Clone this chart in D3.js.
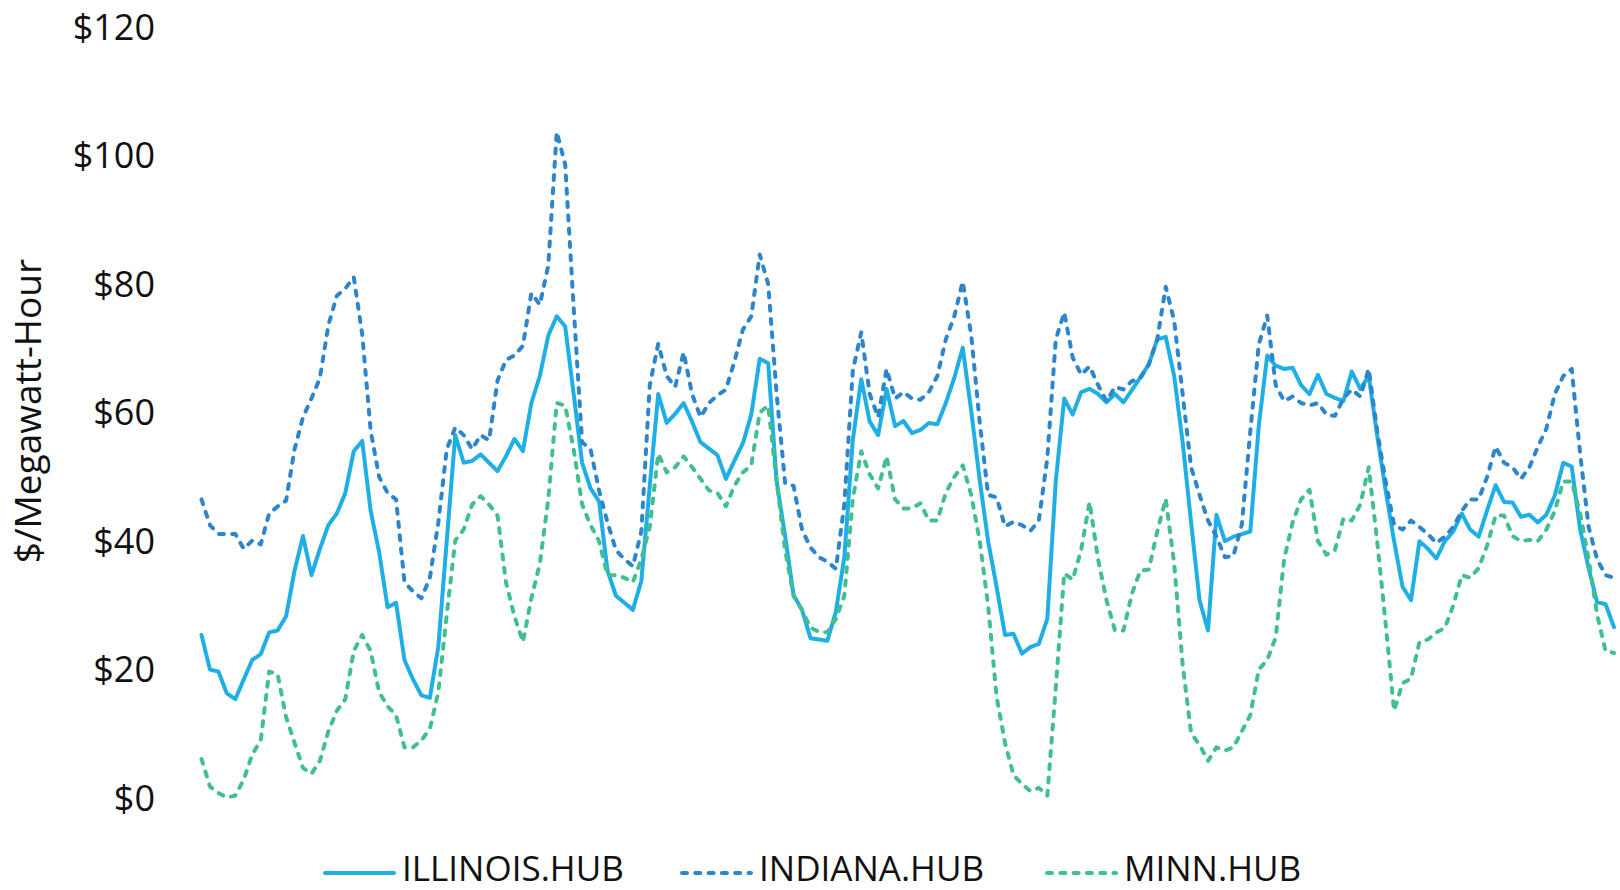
<!DOCTYPE html>
<html>
<head>
<meta charset="utf-8">
<script src="https://cdn.jsdelivr.net/npm/d3@7"></script>
<style>
  html, body { margin: 0; padding: 0; background: #ffffff; }
  svg { display: block; }
  text { font-family: "Open Sans", "Noto Sans", sans-serif; fill: #111111; }
</style>
</head>
<body>
<svg id="chart" width="1620" height="890"></svg>
<script>
// Hourly hub prices, $/MWh, one week (168 hours)
const illinoisHub = [
  25.3, 19.9, 19.6, 16.2, 15.3, 18.4, 21.4, 22.3, 25.7, 26.0, 28.2, 35.3, 40.7, 34.6, 38.7, 42.4, 44.2, 47.4, 53.9, 55.5, 44.6, 38.2, 29.6, 30.3,
  21.4, 18.4, 15.9, 15.5, 23.5, 40.0, 56.4, 52.1, 52.4, 53.4, 52.1, 50.8, 53.1, 55.8, 53.9, 61.4, 65.6, 71.9, 74.9, 73.3, 62.8, 52.1, 48.1, 46.1,
  35.3, 31.4, 30.3, 29.2, 33.7, 48.5, 62.8, 58.3, 59.7, 61.4, 58.5, 55.3, 54.3, 53.3, 49.6, 52.4, 55.1, 59.6, 68.3, 67.6, 49.2, 40.7, 31.5, 29.2,
  24.8, 24.6, 24.4, 28.9, 37.4, 55.6, 65.1, 58.5, 56.4, 63.6, 57.8, 58.6, 56.7, 57.2, 58.3, 58.1, 61.4, 65.3, 70.0, 60.2, 49.5, 39.9, 32.8, 25.3,
  25.5, 22.4, 23.4, 23.9, 27.8, 49.2, 62.1, 59.6, 63.1, 63.6, 62.8, 61.5, 62.8, 61.5, 63.4, 65.4, 67.4, 71.3, 71.7, 65.6, 55.3, 42.8, 30.7, 26.0,
  44.0, 39.9, 40.6, 41.0, 41.4, 57.8, 68.8, 67.2, 66.7, 66.9, 64.2, 62.8, 65.8, 62.8, 62.2, 61.7, 66.3, 63.6, 65.6, 56.4, 47.8, 39.9, 32.8, 30.7,
  39.9, 38.7, 37.2, 39.9, 41.4, 44.2, 41.7, 40.6, 44.7, 48.6, 46.0, 45.9, 43.7, 44.0, 42.8, 44.0, 47.0, 52.1, 51.5, 41.7, 35.7, 30.4, 30.1, 26.5
];
const indianaHub = [
  46.4, 42.4, 41.0, 41.0, 41.0, 38.7, 40.0, 39.4, 44.2, 45.3, 46.2, 54.2, 59.2, 62.1, 65.3, 73.5, 78.1, 79.2, 81.0, 72.1, 57.1, 49.9, 47.4, 46.4,
  33.5, 32.1, 31.0, 34.2, 42.8, 54.2, 57.6, 56.4, 54.2, 56.4, 55.6, 64.9, 68.1, 68.8, 70.3, 78.5, 76.7, 82.8, 103.6, 98.5, 76.3, 55.3, 54.2, 47.8,
  42.8, 38.5, 37.1, 36.0, 41.4, 64.2, 70.6, 65.6, 63.9, 69.3, 62.8, 59.2, 61.4, 62.6, 63.5, 67.8, 72.8, 74.9, 84.5, 79.9, 62.8, 48.9, 48.5, 41.7,
  38.9, 37.4, 36.7, 35.6, 45.6, 66.4, 72.4, 62.8, 59.2, 66.7, 62.1, 63.1, 62.1, 61.9, 63.1, 65.6, 71.3, 74.9, 80.3, 72.0, 58.5, 47.1, 46.7, 42.2,
  42.9, 42.4, 41.5, 43.1, 52.8, 71.3, 75.5, 68.5, 65.8, 67.1, 64.2, 61.7, 63.9, 63.5, 64.8, 65.3, 67.4, 71.3, 79.5, 74.2, 62.8, 51.4, 47.1, 43.1,
  40.6, 37.4, 37.6, 42.5, 57.0, 70.5, 75.0, 64.2, 61.7, 62.4, 61.4, 61.0, 61.4, 59.6, 59.4, 62.1, 63.5, 62.4, 66.7, 57.1, 49.2, 42.4, 41.7, 43.1,
  42.1, 41.0, 39.6, 40.6, 42.1, 44.6, 46.4, 46.4, 49.9, 54.6, 52.1, 51.4, 49.6, 51.4, 54.6, 57.4, 62.8, 65.6, 66.7, 53.5, 42.1, 37.1, 34.6, 34.2
];
const minnHub = [
  6.0, 1.7, 0.7, 0.0, 0.3, 2.8, 6.7, 8.9, 19.6, 19.2, 12.5, 8.5, 4.6, 3.7, 5.7, 10.3, 13.5, 15.3, 22.8, 25.3, 22.8, 16.4, 14.2, 12.8,
  7.8, 7.8, 8.9, 10.7, 16.4, 28.5, 40.0, 41.7, 45.6, 46.9, 45.6, 43.9, 33.5, 28.2, 24.2, 31.0, 36.4, 46.4, 61.4, 61.0, 54.2, 45.6, 42.4, 39.9,
  34.6, 34.6, 34.2, 33.5, 37.1, 42.1, 53.5, 50.6, 51.4, 53.1, 51.4, 49.6, 47.8, 47.4, 45.3, 48.5, 50.6, 51.7, 59.9, 61.0, 49.2, 38.5, 31.4, 29.2,
  26.4, 25.8, 25.7, 27.8, 31.4, 46.4, 53.9, 50.3, 48.1, 53.1, 46.4, 45.0, 45.0, 45.8, 43.1, 43.1, 47.4, 49.9, 51.7, 47.1, 40.0, 29.9, 15.7, 8.5,
  3.5, 2.1, 1.0, 1.5, 0.3, 17.1, 34.9, 33.9, 38.5, 46.0, 37.1, 30.7, 26.0, 26.0, 31.7, 35.3, 35.5, 41.4, 46.5, 36.4, 20.7, 10.0, 8.2, 5.7,
  7.8, 7.3, 7.8, 10.3, 12.8, 19.9, 21.4, 24.9, 37.1, 42.8, 46.4, 47.9, 39.9, 37.8, 38.5, 43.4, 43.1, 45.6, 51.4, 39.9, 27.1, 13.5, 17.8, 18.5,
  24.2, 24.6, 25.7, 26.4, 29.9, 34.6, 34.2, 35.7, 39.2, 43.9, 43.9, 40.7, 39.9, 40.1, 39.9, 41.7, 44.6, 49.2, 49.2, 44.2, 37.1, 28.5, 22.8, 22.5
];

const seriesNames = ["ILLINOIS.HUB", "INDIANA.HUB", "MINN.HUB"];
const yTickValues = [0, 20, 40, 60, 80, 100, 120];
const yAxisTitle = "$/Megawatt-Hour";

const series = [
  { name: seriesNames[0], values: illinoisHub, color: "#1fafe5", dash: null },
  { name: seriesNames[1], values: indianaHub,  color: "#2d86cb", dash: "5,8.3" },
  { name: seriesNames[2], values: minnHub,     color: "#41bf8e", dash: "5,8.3" }
];

const svg = d3.select("#chart");
const plot = { left: 201.5, right: 1614, top: 26.5, bottom: 797.5 };
const lineWidth = 4;

const x = d3.scaleLinear().domain([0, illinoisHub.length - 1]).range([plot.left, plot.right]);
const y = d3.scaleLinear().domain([0, 120]).range([plot.bottom, plot.top]);

// Value axis: labels only, no domain line or ticks
const yAxis = d3.axisLeft(y)
  .tickValues(yTickValues)
  .tickSize(0)
  .tickPadding(0)
  .tickFormat(d => "$" + d);

const yAxisG = svg.append("g")
  .attr("transform", "translate(155,0)")
  .call(yAxis);
yAxisG.select(".domain").remove();
yAxisG.selectAll("text")
  .attr("x", 0)
  .attr("dy", "0.36em")
  .style("font-family", "\"Open Sans\", sans-serif")
  .style("font-size", "36px")
  .style("fill", "#111111");

// Rotated axis title
svg.append("text")
  .attr("transform", "translate(41,411) rotate(-90)")
  .attr("text-anchor", "middle")
  .style("font-size", "37px")
  .text(yAxisTitle);

// Price lines
const line = d3.line()
  .x((d, i) => x(i))
  .y(d => y(d));

svg.append("g")
  .selectAll("path")
  .data(series)
  .join("path")
  .attr("d", d => line(d.values))
  .attr("fill", "none")
  .attr("stroke", d => d.color)
  .attr("stroke-width", lineWidth)
  .attr("stroke-linejoin", "round")
  .attr("stroke-linecap", "round")
  .attr("stroke-dasharray", d => d.dash);

// Legend along the bottom
const legendY = 873;
const legendStarts = [325, 682, 1047];
const legend = svg.append("g")
  .selectAll("g")
  .data(series)
  .join("g")
  .attr("transform", (d, i) => `translate(${legendStarts[i]},${legendY})`);

legend.append("line")
  .attr("x1", 0).attr("x2", 69)
  .attr("y1", 0).attr("y2", 0)
  .attr("stroke", d => d.color)
  .attr("stroke-width", lineWidth)
  .attr("stroke-linecap", "round")
  .attr("stroke-dasharray", d => d.dash);

legend.append("text")
  .attr("x", 77)
  .attr("y", 7.5)
  .style("font-size", "35px")
  .text(d => d.name);
</script>
</body>
</html>
